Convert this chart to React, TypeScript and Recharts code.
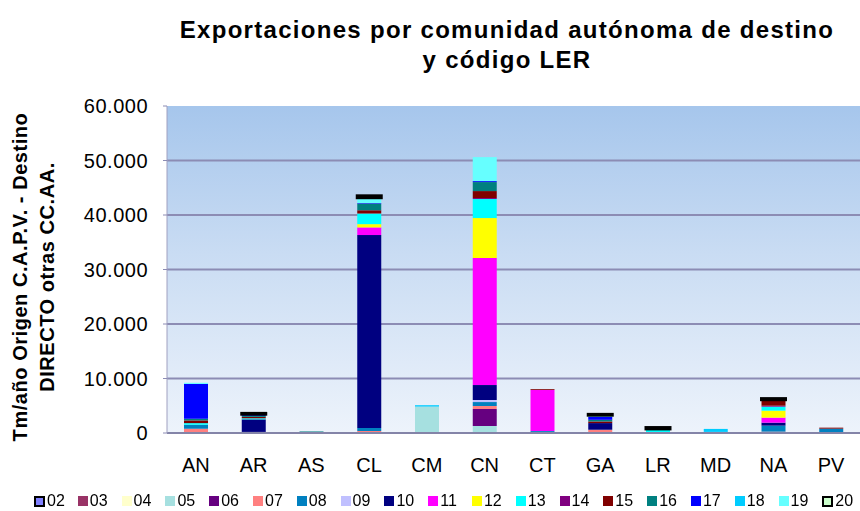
import React from 'react';
import { BarChart, Bar, XAxis, YAxis, CartesianGrid } from 'recharts';

// Comunidades autónomas de destino
const categories = ['AN', 'AR', 'AS', 'CL', 'CM', 'CN', 'CT', 'GA', 'LR', 'MD', 'NA', 'PV'];

// Tm/año por código LER (mismo orden que categories)
const v02 = [0, 0, 0, 0, 0, 0, 0, 0, 0, 0, 0, 0];
const v03 = [0, 0, 0, 0, 0, 0, 0, 0, 0, 0, 0, 0];
const v04 = [0, 0, 0, 0, 0, 0, 0, 0, 0, 0, 0, 0];
const v05 = [0, 0, 0, 0, 4850, 1280, 0, 0, 0, 0, 0, 0];
const v06 = [80, 200, 0, 0, 0, 3120, 0, 0, 0, 0, 0, 150];
const v07 = [700, 0, 0, 370, 0, 550, 0, 600, 0, 0, 250, 0];
const v08 = [730, 0, 0, 550, 0, 730, 350, 0, 0, 0, 1100, 650];
const v09 = [0, 0, 0, 0, 0, 370, 0, 0, 0, 0, 0, 0];
const v10 = [0, 2300, 0, 35400, 0, 2750, 0, 1220, 0, 0, 550, 0];
const v11 = [0, 0, 0, 1400, 0, 23300, 7550, 0, 0, 0, 920, 0];
const v12 = [0, 0, 0, 600, 0, 7340, 0, 0, 0, 0, 1280, 0];
const v13 = [300, 200, 0, 1950, 0, 3490, 0, 0, 750, 0, 730, 0];
const v14 = [0, 0, 0, 0, 0, 180, 0, 0, 0, 200, 180, 0];
const v15 = [500, 250, 0, 600, 0, 1280, 150, 300, 0, 0, 1100, 180];
const v16 = [300, 200, 280, 1220, 0, 1650, 0, 300, 0, 0, 0, 0];
const v17 = [6400, 300, 0, 100, 0, 180, 0, 550, 0, 0, 0, 0];
const v18 = [0, 0, 0, 0, 250, 0, 0, 0, 0, 550, 0, 0];
const v19 = [200, 0, 0, 980, 0, 4400, 0, 300, 0, 0, 0, 0];
const v20 = [0, 150, 0, 350, 0, 0, 0, 150, 250, 0, 200, 0];

const yTicks = [0, 10000, 20000, 30000, 40000, 50000, 60000];

const series = [
    { code: '02', color: '#8080ff', values: v02, border: true },
    { code: '03', color: '#993366', values: v03 },
    { code: '04', color: '#ffffcc', values: v04 },
    { code: '05', color: '#a6e0e0', values: v05 },
    { code: '06', color: '#660080', values: v06 },
    { code: '07', color: '#ff8080', values: v07 },
    { code: '08', color: '#0080c0', values: v08 },
    { code: '09', color: '#c0c0ff', values: v09 },
    { code: '10', color: '#000080', values: v10 },
    { code: '11', color: '#ff00ff', values: v11 },
    { code: '12', color: '#ffff00', values: v12 },
    { code: '13', color: '#00ffff', values: v13 },
    { code: '14', color: '#800080', values: v14 },
    { code: '15', color: '#800000', values: v15 },
    { code: '16', color: '#008080', values: v16 },
    { code: '17', color: '#0000ff', values: v17 },
    { code: '18', color: '#00ccff', values: v18 },
    { code: '19', color: '#66ffff', values: v19 },
    { code: '20', color: '#ccffcc', values: v20, border: true },
];

const data = categories.map((cat, i) => {
    const row: Record<string, string | number> = { cat };
    series.forEach((s) => {
        row[s.code] = s.values[i];
    });
    return row;
});

const FONT = '"Liberation Sans", Arial, sans-serif';

const fmt = (v: number) => String(v).replace(/\B(?=(\d{3})+(?!\d))/g, '.');

const App: React.FC = () => {
    return (
        <div
            style={{
                position: 'fixed',
                left: 0,
                top: 0,
                width: 860,
                height: 511,
                background: '#ffffff',
                fontFamily: FONT,
                color: '#000',
            }}
        >
            {/* title */}
            <div
                style={{
                    position: 'absolute',
                    left: 107,
                    top: 15,
                    width: 800,
                    textAlign: 'center',
                    fontWeight: 700,
                    fontSize: 24,
                    letterSpacing: 1.3,
                    lineHeight: '30px',
                }}
            >
                Exportaciones por comunidad autónoma de destino
                <br />
                y código LER
            </div>

            {/* y axis title */}
            <div
                style={{
                    position: 'absolute',
                    left: 33.5 - 200,
                    top: 277 - 27,
                    width: 400,
                    height: 54,
                    transform: 'rotate(-90deg)',
                    textAlign: 'center',
                    fontWeight: 700,
                    fontSize: 20,
                    letterSpacing: 0.55,
                    lineHeight: '27px',
                }}
            >
                Tm/año Origen C.A.P.V. - Destino
                <br />
                DIRECTO otras CC.AA.
            </div>

            <BarChart
                width={860}
                height={511}
                data={data}
                margin={{ top: 106, right: 0, bottom: 0, left: 0 }}
                style={{ position: 'absolute', left: 0, top: 0 }}
            >
                <defs>
                    <linearGradient id="plotBg" x1="0" y1="0" x2="0" y2="1">
                        <stop offset="0%" stopColor="#a6c6ec" />
                        <stop offset="45%" stopColor="#c9dcf3" />
                        <stop offset="100%" stopColor="#edf3fb" />
                    </linearGradient>
                </defs>
                <CartesianGrid
                    vertical={false}
                    horizontalValues={[10000, 20000, 30000, 40000, 50000]}
                    stroke="#8c8cb4"
                    strokeWidth={2}
                    fill="url(#plotBg)"
                    fillOpacity={1}
                />
                <XAxis
                    dataKey="cat"
                    height={78}
                    axisLine={{ stroke: '#8484a8', strokeWidth: 2 }}
                    tickLine={false}
                    tickSize={0}
                    tickMargin={25}
                    tick={{ fill: '#000', fontSize: 20, fontFamily: FONT }}
                />
                <YAxis
                    width={167}
                    domain={[0, 60000]}
                    ticks={yTicks}
                    interval={0}
                    tickFormatter={fmt}
                    axisLine={{ stroke: '#a0a0c0', strokeWidth: 1 }}
                    tickLine={{ stroke: '#8c8cb4' }}
                    tickSize={4}
                    tickMargin={15}
                    tick={{ fill: '#000', fontSize: 20, fontFamily: FONT, letterSpacing: 0.5 }}
                />
                {series.map((s) => (
                    <Bar
                        key={s.code}
                        dataKey={s.code}
                        stackId="ler"
                        fill={s.color}
                        stroke={s.code === '20' ? '#000' : 'none'}
                        strokeWidth={s.code === '20' ? 3 : 0}
                        barSize={24}
                        isAnimationActive={false}
                    />
                ))}
            </BarChart>

            {/* legend */}
            <div
                style={{
                    position: 'absolute',
                    left: 34,
                    top: 493,
                    display: 'flex',
                    fontSize: 16,
                    lineHeight: '16px',
                }}
            >
                {series.map((s) => (
                    <div
                        key={s.code}
                        style={{ width: 43.8, display: 'flex', alignItems: 'center' }}
                    >
                        <span
                            style={{
                                display: 'inline-block',
                                boxSizing: 'border-box',
                                width: s.border ? 11 : 10,
                                height: s.border ? 11 : 10,
                                background: s.color,
                                border: s.border ? '2.5px solid #000' : 'none',
                                marginRight: 2,
                            }}
                        />
                        <span>{s.code}</span>
                    </div>
                ))}
            </div>
        </div>
    );
};

export default App;
